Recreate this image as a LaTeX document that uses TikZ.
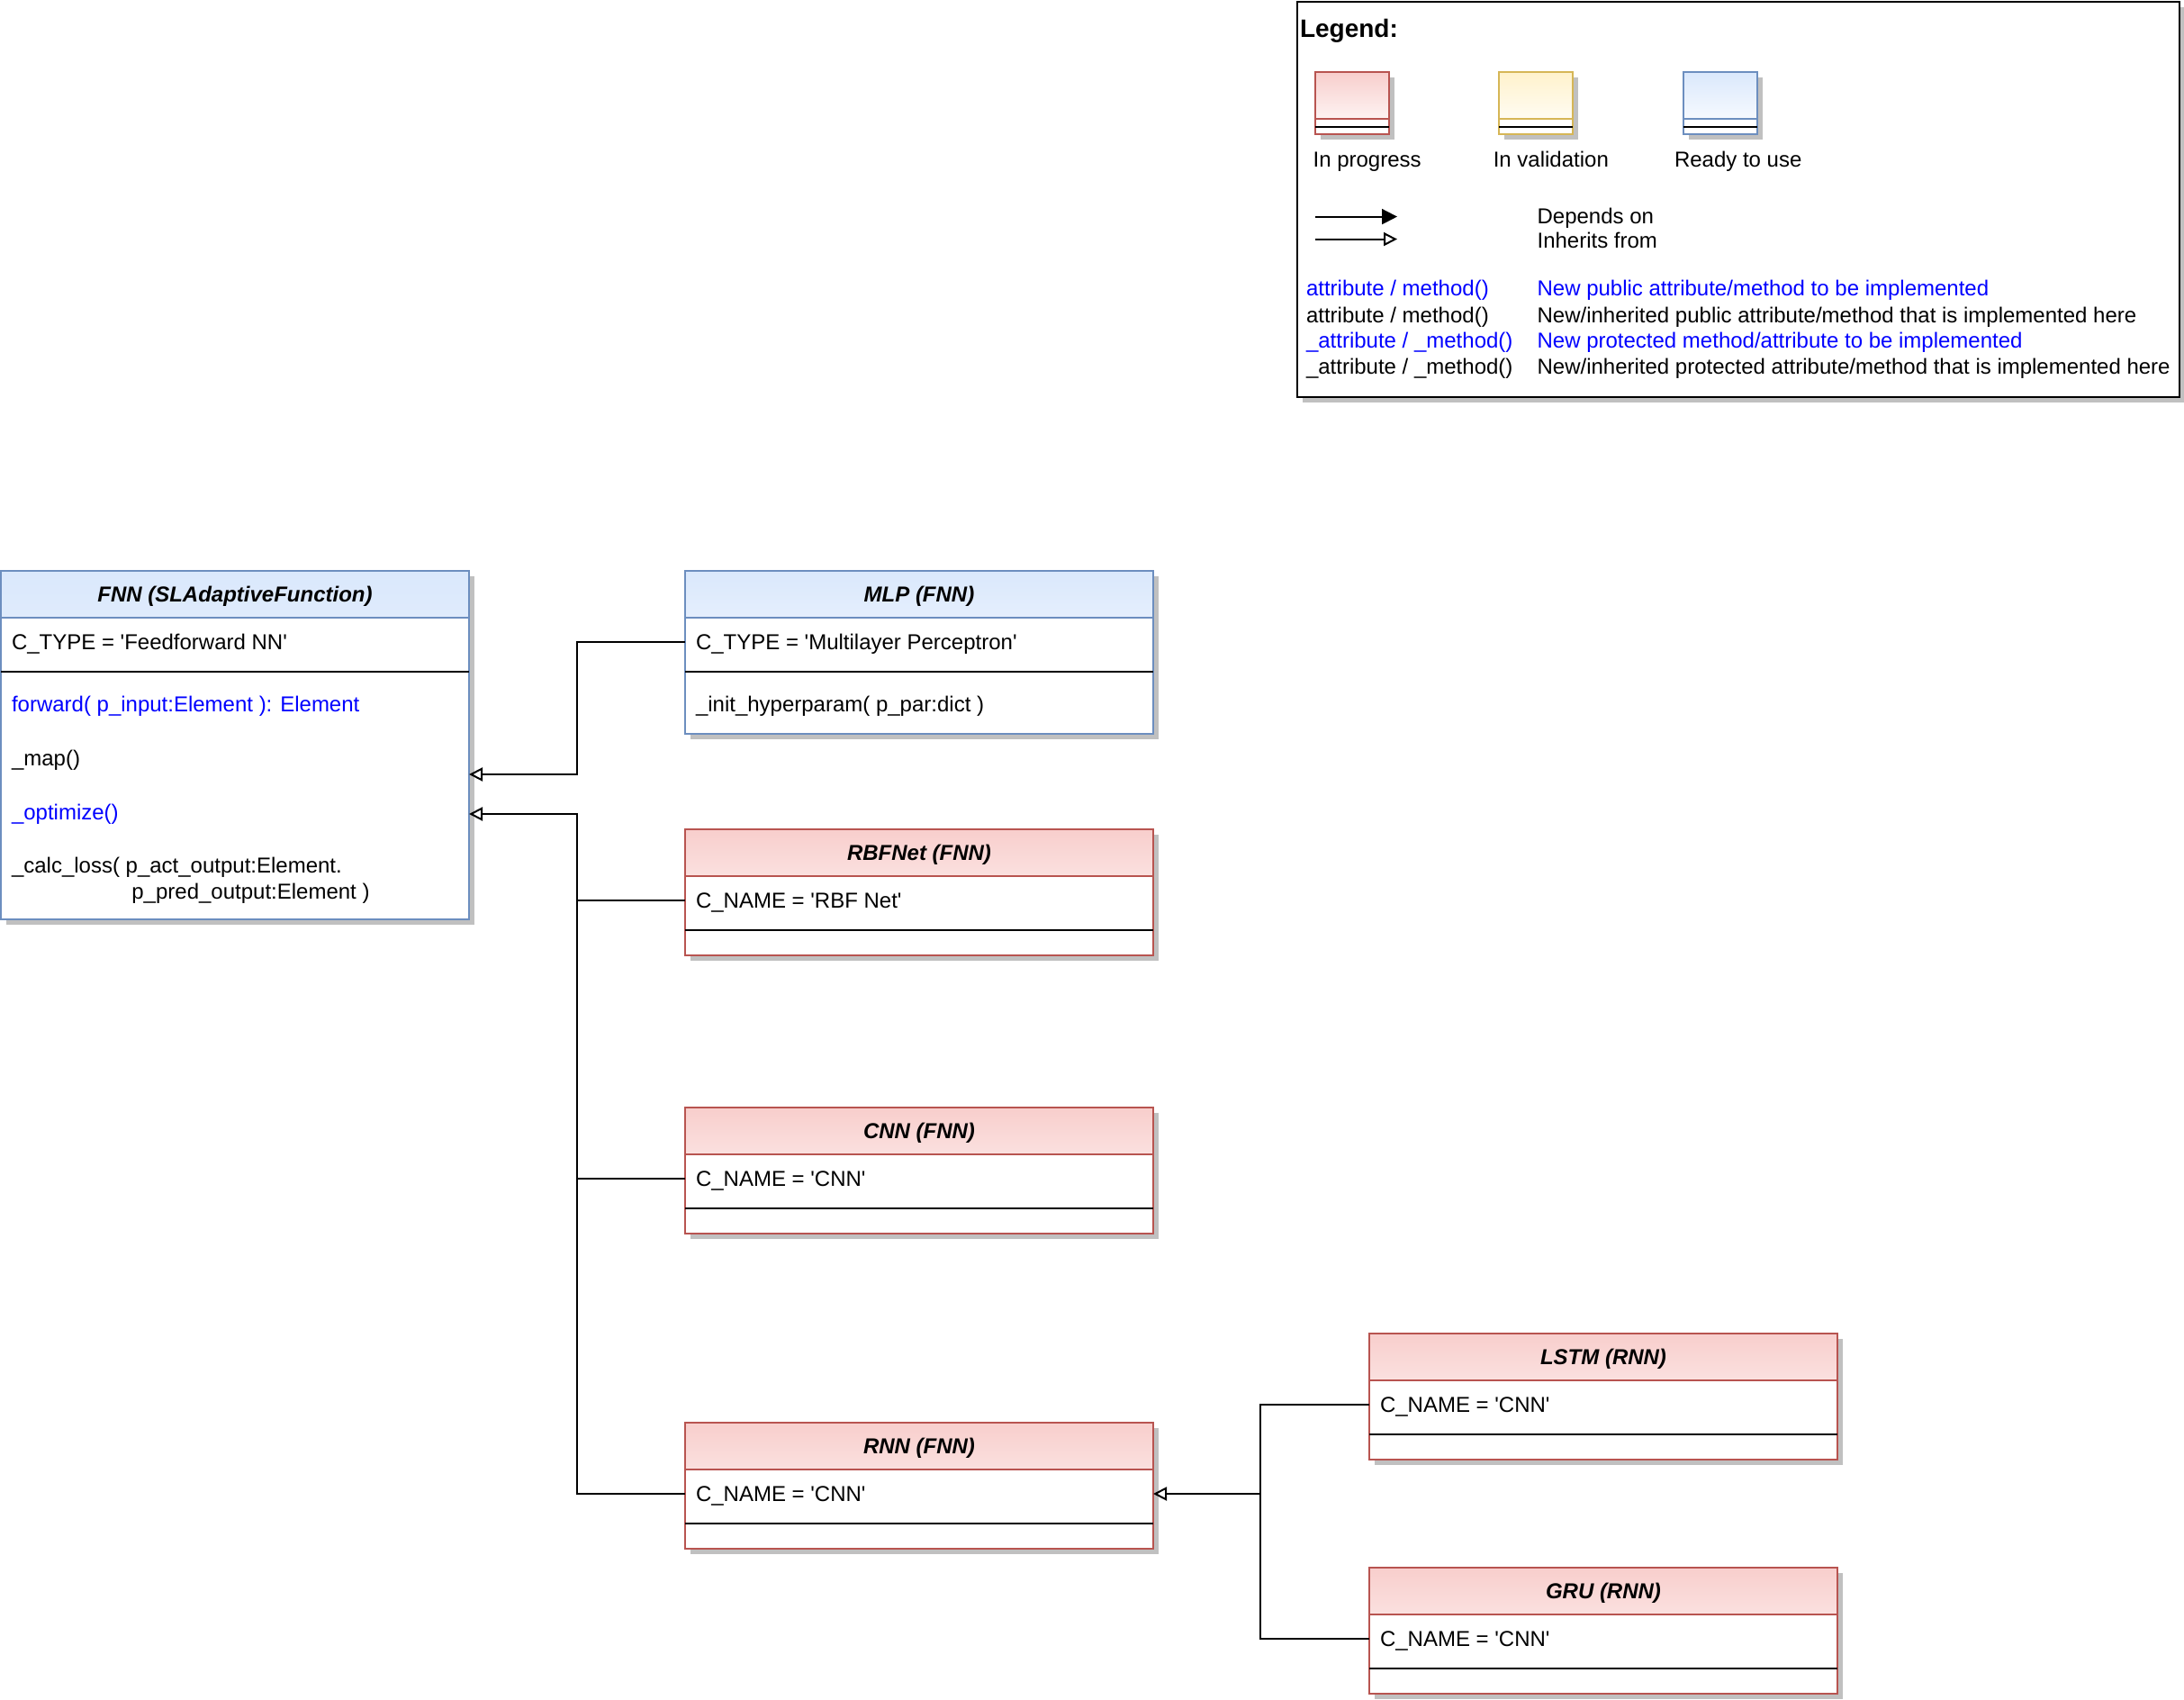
\documentclass[tikz,border=0pt]{standalone}
\usepackage{fontspec}
\setmainfont{Liberation Sans}[Ligatures=TeXOff]
\usetikzlibrary{arrows.meta,shadows}

\definecolor{redfill}{HTML}{F8CECC}
\definecolor{redline}{HTML}{B85450}
\definecolor{yellowfill}{HTML}{FFF2CC}
\definecolor{yellowline}{HTML}{D6B656}
\definecolor{bluefill}{HTML}{DAE8FC}
\definecolor{blueline}{HTML}{6C8EBF}
\definecolor{shadowgray}{HTML}{C0C0C0}
\definecolor{newblue}{HTML}{0000FF}

% header rule (class colour) and attribute/method separator (black)
\newcommand\umlrules[2]{%
  \draw[#2] ([yshift=-26pt]#1.north west) -- ([yshift=-26pt]#1.north east);
  \draw[black] ([yshift=-56pt]#1.north west) -- ([yshift=-56pt]#1.north east);}

\begin{document}
\begin{tikzpicture}[x=1pt, y=-1pt, line width=1pt,
  font=\fontsize{12pt}{14.4pt}\selectfont,
  every node/.style={inner sep=0pt, outer sep=0pt},
  boxshadow/.style={general shadow={fill=shadowgray, shadow xshift=3pt, shadow yshift=-3pt}},
  umlbox/.style n args={3}{rectangle, anchor=north west, minimum width=260pt,
    minimum height=#3, draw=#2, fill=white, boxshadow,
    path picture={\shade[top color=#1, bottom color=white]
      (path picture bounding box.north west) rectangle
      ([yshift=-26pt]path picture bounding box.north east);}},
  iconbox/.style n args={2}{rectangle, anchor=north west, minimum width=41pt,
    minimum height=34.5pt, draw=#2, fill=white, boxshadow,
    path picture={\shade[top color=#1, bottom color=white]
      (path picture bounding box.north west) rectangle
      ([yshift=-26pt]path picture bounding box.north east);}},
  legendbox/.style={rectangle, anchor=north west, minimum width=489.9pt,
    minimum height=219.5pt, draw=black, fill=white, boxshadow},
  titletext/.style={font=\fontsize{12pt}{14.4pt}\selectfont\bfseries\itshape,
    text height=10.2pt, text depth=1.5pt},
  rowtext/.style={anchor=west, text height=10.2pt, text depth=1.5pt},
  newtext/.style={rowtext, text=newblue},
  inh/.style={-{Triangle[open, length=7.5pt, width=7.5pt]}},
  dep/.style={-{Triangle[length=8.5pt, width=8.5pt]}},
]
\useasboundingbox (0,0) rectangle (1213,944);

% ---------- legend ----------
\node[legendbox] (legend) at (720.7,0.8) {};
\node[anchor=west, font=\fontsize{14pt}{16.8pt}\selectfont\bfseries,
  text height=11pt, text depth=1pt] (legend-t) at (722,15.8) {Legend:};

\node[iconbox={redfill}{redline}] (icon-r) at (730.5,40) {};
\node[iconbox={yellowfill}{yellowline}] (icon-y) at (832.7,40) {};
\node[iconbox={bluefill}{blueline}] (icon-b) at (934.9,40) {};
\foreach \n/\c in {icon-r/redline, icon-y/yellowline, icon-b/blueline}{
  \draw[\c] ([yshift=-26.2pt]\n.north west) -- ([yshift=-26.2pt]\n.north east);
  \draw[black] ([yshift=-30.3pt]\n.north west) -- ([yshift=-30.3pt]\n.north east);
}
\node[rowtext] (lbl-r) at (729.3,88.3) {In progress};
\node[rowtext] (lbl-y) at (829.4,88.3) {In validation};
\node[rowtext] (lbl-b) at (930,88.3) {Ready to use};

\coordinate (dep-s) at (730.3,120.3);
\coordinate (dep-e) at (776,120.3);
\coordinate (inh-s) at (730.3,132.8);
\coordinate (inh-e) at (776,132.8);
\draw[dep] (dep-s) -- (dep-e);
\draw[inh] (inh-s) -- (inh-e);
\node[rowtext] (lbl-dep) at (853.8,120) {Depends on};
\node[rowtext] (lbl-inh) at (853.8,133.3) {Inherits from};

\node[newtext] (k1) at (725.5,160) {attribute / method()};
\node[newtext] (v1) at (853.8,160) {New public attribute/method to be implemented};
\node[rowtext] (k2) at (725.5,174.8) {attribute / method()};
\node[rowtext] (v2) at (853.8,174.8) {New/inherited public attribute/method that is implemented here};
\node[newtext] (k3) at (725.5,189) {\_attribute / \_method()};
\node[newtext] (v3) at (853.8,189) {New protected method/attribute to be implemented};
\node[rowtext] (k4) at (725.5,203.2) {\_attribute / \_method()};
\node[rowtext] (v4) at (853.8,203.2) {New/inherited protected attribute/method that is implemented here};

% ---------- FNN ----------
\node[umlbox={bluefill}{blueline}{193.5pt}] (fnn) at (0.5,317) {};
\umlrules{fnn}{blueline}
\node[titletext] (fnn-t) at ([yshift=-13pt]fnn.north) {FNN (SLAdaptiveFunction)};
\node[rowtext] (fnn-a) at ([xshift=6pt,yshift=-39.6pt]fnn.north west) {C\_TYPE = 'Feedforward NN'};
\node[newtext] (fnn-m1) at ([xshift=6pt,yshift=-73.7pt]fnn.north west) {forward( p\_input:Element ): Element};
\node[rowtext] (fnn-m2) at ([xshift=6pt,yshift=-103.8pt]fnn.north west) {\_map()};
\node[newtext] (fnn-m3) at ([xshift=6pt,yshift=-134pt]fnn.north west) {\_optimize()};
\node[rowtext] (fnn-m4) at ([xshift=6pt,yshift=-163.4pt]fnn.north west) {\_calc\_loss( p\_act\_output:Element.};
\node[rowtext] (fnn-m4b) at ([xshift=72.7pt,yshift=-178.1pt]fnn.north west) {p\_pred\_output:Element )};

% ---------- MLP ----------
\node[umlbox={bluefill}{blueline}{90.7pt}] (mlp) at (380.5,317) {};
\umlrules{mlp}{blueline}
\node[titletext] (mlp-t) at ([yshift=-13pt]mlp.north) {MLP (FNN)};
\node[rowtext] (mlp-a) at ([xshift=6pt,yshift=-39.6pt]mlp.north west) {C\_TYPE = 'Multilayer Perceptron'};
\node[rowtext] (mlp-m) at ([xshift=6pt,yshift=-73.7pt]mlp.north west) {\_init\_hyperparam( p\_par:dict )};

% ---------- RBFNet / CNN / RNN ----------
\node[umlbox={redfill}{redline}{70pt}] (rbf) at (380.5,460.3) {};
\umlrules{rbf}{redline}
\node[titletext] (rbf-t) at ([yshift=-13pt]rbf.north) {RBFNet (FNN)};
\node[rowtext] (rbf-a) at ([xshift=6pt,yshift=-39.5pt]rbf.north west) {C\_NAME = 'RBF Net'};

\node[umlbox={redfill}{redline}{70pt}] (cnn) at (380.5,615) {};
\umlrules{cnn}{redline}
\node[titletext] (cnn-t) at ([yshift=-13pt]cnn.north) {CNN (FNN)};
\node[rowtext] (cnn-a) at ([xshift=6pt,yshift=-39.5pt]cnn.north west) {C\_NAME = 'CNN'};

\node[umlbox={redfill}{redline}{70pt}] (rnn) at (380.5,790) {};
\umlrules{rnn}{redline}
\node[titletext] (rnn-t) at ([yshift=-13pt]rnn.north) {RNN (FNN)};
\node[rowtext] (rnn-a) at ([xshift=6pt,yshift=-39.5pt]rnn.north west) {C\_NAME = 'CNN'};

% ---------- LSTM / GRU ----------
\node[umlbox={redfill}{redline}{70pt}] (lstm) at (760.5,740.3) {};
\umlrules{lstm}{redline}
\node[titletext] (lstm-t) at ([yshift=-13pt]lstm.north) {LSTM (RNN)};
\node[rowtext] (lstm-a) at ([xshift=6pt,yshift=-39.5pt]lstm.north west) {C\_NAME = 'CNN'};

\node[umlbox={redfill}{redline}{70pt}] (gru) at (760.5,870.3) {};
\umlrules{gru}{redline}
\node[titletext] (gru-t) at ([yshift=-13pt]gru.north) {GRU (RNN)};
\node[rowtext] (gru-a) at ([xshift=6pt,yshift=-39.5pt]gru.north west) {C\_NAME = 'CNN'};

% ---------- inheritance connectors ----------
\coordinate (j1) at (320.3,430);
\coordinate (j2) at (320.3,452);
\coordinate (j3) at (700.1,829.5);

\draw[inh] (mlp.west |- mlp-a) -| (j1) -- (fnn.east |- j1);
\draw[inh] (rnn.west |- rnn-a) -| (j2) -- (fnn.east |- j2);
\draw (rbf.west |- rbf-a) -- (rbf-a -| j2);
\draw (cnn.west |- cnn-a) -- (cnn-a -| j2);

\draw[inh] (lstm.west |- lstm-a) -| (j3) -- (rnn.east |- j3);
\draw (gru.west |- gru-a) -| (j3);
\end{tikzpicture}
\end{document}
